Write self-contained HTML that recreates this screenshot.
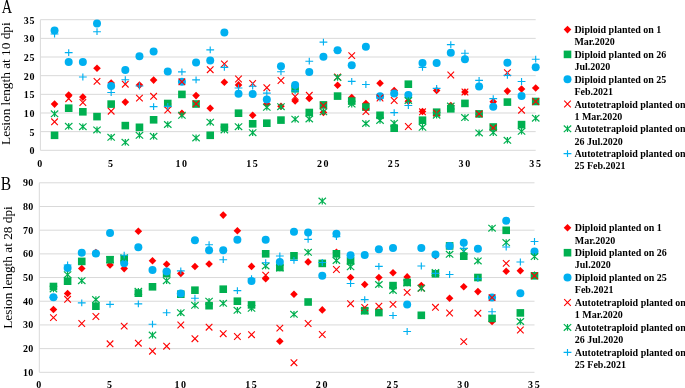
<!DOCTYPE html>
<html><head><meta charset="utf-8"><style>
html,body{margin:0;padding:0;background:#fff;}
body{width:685px;height:388px;overflow:hidden;}
svg{display:block;}
.tk{font-family:"Liberation Serif",serif;font-weight:bold;font-size:10px;fill:#000;}
.lg{font-family:"Liberation Serif",serif;font-weight:bold;font-size:10px;fill:#000;}
.ttl{font-family:"Liberation Serif",serif;font-size:13.3px;fill:#000;}
.let{font-family:"Liberation Serif",serif;font-size:18.4px;fill:#000;}
</style></head><body>
<svg width="685" height="388" viewBox="0 0 685 388">
<rect width="685" height="388" fill="#fff"/>
<text x="35.00" y="154.30" class="tk" text-anchor="end" letter-spacing="0.6">0</text>
<line x1="40.40" y1="131.64" x2="535.70" y2="131.64" stroke="#d9d9d9" stroke-width="1"/>
<text x="35.00" y="135.64" class="tk" text-anchor="end" letter-spacing="0.6">5</text>
<line x1="40.40" y1="112.99" x2="535.70" y2="112.99" stroke="#d9d9d9" stroke-width="1"/>
<text x="35.00" y="116.99" class="tk" text-anchor="end" letter-spacing="0.6">10</text>
<line x1="40.40" y1="94.33" x2="535.70" y2="94.33" stroke="#d9d9d9" stroke-width="1"/>
<text x="35.00" y="98.33" class="tk" text-anchor="end" letter-spacing="0.6">15</text>
<line x1="40.40" y1="75.67" x2="535.70" y2="75.67" stroke="#d9d9d9" stroke-width="1"/>
<text x="35.00" y="79.67" class="tk" text-anchor="end" letter-spacing="0.6">20</text>
<line x1="40.40" y1="57.01" x2="535.70" y2="57.01" stroke="#d9d9d9" stroke-width="1"/>
<text x="35.00" y="61.01" class="tk" text-anchor="end" letter-spacing="0.6">25</text>
<line x1="40.40" y1="38.36" x2="535.70" y2="38.36" stroke="#d9d9d9" stroke-width="1"/>
<text x="35.00" y="42.36" class="tk" text-anchor="end" letter-spacing="0.6">30</text>
<line x1="40.40" y1="19.70" x2="535.70" y2="19.70" stroke="#d9d9d9" stroke-width="1"/>
<text x="35.00" y="23.70" class="tk" text-anchor="end" letter-spacing="0.6">35</text>
<line x1="40.40" y1="150.30" x2="535.70" y2="150.30" stroke="#d9d9d9" stroke-width="1"/>
<line x1="40.40" y1="19.70" x2="40.40" y2="150.30" stroke="#d9d9d9" stroke-width="1"/>
<text x="39.80" y="166.60" class="tk" text-anchor="middle" letter-spacing="0">0</text>
<text x="110.56" y="166.60" class="tk" text-anchor="middle" letter-spacing="0">5</text>
<text x="182.11" y="166.60" class="tk" text-anchor="middle" letter-spacing="1.6">10</text>
<text x="252.87" y="166.60" class="tk" text-anchor="middle" letter-spacing="1.6">15</text>
<text x="323.63" y="166.60" class="tk" text-anchor="middle" letter-spacing="1.6">20</text>
<text x="394.39" y="166.60" class="tk" text-anchor="middle" letter-spacing="1.6">25</text>
<text x="465.14" y="166.60" class="tk" text-anchor="middle" letter-spacing="1.6">30</text>
<text x="535.90" y="166.60" class="tk" text-anchor="middle" letter-spacing="1.6">35</text>
<path d="M54.55 100.30L58.35 104.10L54.55 107.90L50.75 104.10Z" fill="#ff0000"/>
<path d="M68.70 91.30L72.50 95.10L68.70 98.90L64.90 95.10Z" fill="#ff0000"/>
<path d="M82.85 93.30L86.65 97.10L82.85 100.90L79.05 97.10Z" fill="#ff0000"/>
<path d="M97.01 64.50L100.81 68.30L97.01 72.10L93.21 68.30Z" fill="#ff0000"/>
<path d="M111.16 79.20L114.96 83.00L111.16 86.80L107.36 83.00Z" fill="#ff0000"/>
<path d="M125.31 98.30L129.11 102.10L125.31 105.90L121.51 102.10Z" fill="#ff0000"/>
<path d="M139.46 81.30L143.26 85.10L139.46 88.90L135.66 85.10Z" fill="#ff0000"/>
<path d="M153.61 76.30L157.41 80.10L153.61 83.90L149.81 80.10Z" fill="#ff0000"/>
<path d="M167.76 100.20L171.56 104.00L167.76 107.80L163.96 104.00Z" fill="#ff0000"/>
<path d="M181.91 109.50L185.71 113.30L181.91 117.10L178.11 113.30Z" fill="#ff0000"/>
<path d="M196.07 91.80L199.87 95.60L196.07 99.40L192.27 95.60Z" fill="#ff0000"/>
<path d="M210.22 104.40L214.02 108.20L210.22 112.00L206.42 108.20Z" fill="#ff0000"/>
<path d="M224.37 78.40L228.17 82.20L224.37 86.00L220.57 82.20Z" fill="#ff0000"/>
<path d="M238.52 81.10L242.32 84.90L238.52 88.70L234.72 84.90Z" fill="#ff0000"/>
<path d="M252.67 111.40L256.47 115.20L252.67 119.00L248.87 115.20Z" fill="#ff0000"/>
<path d="M266.82 100.20L270.62 104.00L266.82 107.80L263.02 104.00Z" fill="#ff0000"/>
<path d="M280.97 102.40L284.77 106.20L280.97 110.00L277.17 106.20Z" fill="#ff0000"/>
<path d="M295.13 97.10L298.93 100.90L295.13 104.70L291.33 100.90Z" fill="#ff0000"/>
<path d="M309.28 94.60L313.08 98.40L309.28 102.20L305.48 98.40Z" fill="#ff0000"/>
<path d="M323.43 108.70L327.23 112.50L323.43 116.30L319.63 112.50Z" fill="#ff0000"/>
<path d="M337.58 81.50L341.38 85.30L337.58 89.10L333.78 85.30Z" fill="#ff0000"/>
<path d="M351.73 93.70L355.53 97.50L351.73 101.30L347.93 97.50Z" fill="#ff0000"/>
<path d="M365.88 99.70L369.68 103.50L365.88 107.30L362.08 103.50Z" fill="#ff0000"/>
<path d="M380.03 79.40L383.83 83.20L380.03 87.00L376.23 83.20Z" fill="#ff0000"/>
<path d="M394.19 86.80L397.99 90.60L394.19 94.40L390.39 90.60Z" fill="#ff0000"/>
<path d="M408.34 97.40L412.14 101.20L408.34 105.00L404.54 101.20Z" fill="#ff0000"/>
<path d="M422.49 107.70L426.29 111.50L422.49 115.30L418.69 111.50Z" fill="#ff0000"/>
<path d="M436.64 86.70L440.44 90.50L436.64 94.30L432.84 90.50Z" fill="#ff0000"/>
<path d="M450.79 101.70L454.59 105.50L450.79 109.30L446.99 105.50Z" fill="#ff0000"/>
<path d="M464.94 88.20L468.74 92.00L464.94 95.80L461.14 92.00Z" fill="#ff0000"/>
<path d="M479.09 110.40L482.89 114.20L479.09 118.00L475.29 114.20Z" fill="#ff0000"/>
<path d="M493.25 98.00L497.05 101.80L493.25 105.60L489.45 101.80Z" fill="#ff0000"/>
<path d="M507.40 87.30L511.20 91.10L507.40 94.90L503.60 91.10Z" fill="#ff0000"/>
<path d="M521.55 85.20L525.35 89.00L521.55 92.80L517.75 89.00Z" fill="#ff0000"/>
<path d="M535.70 84.20L539.50 88.00L535.70 91.80L531.90 88.00Z" fill="#ff0000"/>
<rect x="50.75" y="131.50" width="7.60" height="7.60" fill="#00b050"/>
<rect x="64.90" y="104.40" width="7.60" height="7.60" fill="#00b050"/>
<rect x="79.05" y="108.00" width="7.60" height="7.60" fill="#00b050"/>
<rect x="93.21" y="112.80" width="7.60" height="7.60" fill="#00b050"/>
<rect x="107.36" y="100.30" width="7.60" height="7.60" fill="#00b050"/>
<rect x="121.51" y="121.80" width="7.60" height="7.60" fill="#00b050"/>
<rect x="135.66" y="123.50" width="7.60" height="7.60" fill="#00b050"/>
<rect x="149.81" y="116.00" width="7.60" height="7.60" fill="#00b050"/>
<rect x="163.96" y="99.70" width="7.60" height="7.60" fill="#00b050"/>
<rect x="178.11" y="90.60" width="7.60" height="7.60" fill="#00b050"/>
<rect x="192.27" y="100.20" width="7.60" height="7.60" fill="#00b050"/>
<rect x="206.42" y="131.50" width="7.60" height="7.60" fill="#00b050"/>
<rect x="220.57" y="123.50" width="7.60" height="7.60" fill="#00b050"/>
<rect x="234.72" y="109.40" width="7.60" height="7.60" fill="#00b050"/>
<rect x="248.87" y="120.00" width="7.60" height="7.60" fill="#00b050"/>
<rect x="263.02" y="119.40" width="7.60" height="7.60" fill="#00b050"/>
<rect x="277.17" y="116.30" width="7.60" height="7.60" fill="#00b050"/>
<rect x="291.33" y="85.00" width="7.60" height="7.60" fill="#00b050"/>
<rect x="305.48" y="108.70" width="7.60" height="7.60" fill="#00b050"/>
<rect x="319.63" y="101.10" width="7.60" height="7.60" fill="#00b050"/>
<rect x="333.78" y="92.30" width="7.60" height="7.60" fill="#00b050"/>
<rect x="347.93" y="97.30" width="7.60" height="7.60" fill="#00b050"/>
<rect x="362.08" y="103.30" width="7.60" height="7.60" fill="#00b050"/>
<rect x="376.23" y="111.50" width="7.60" height="7.60" fill="#00b050"/>
<rect x="390.39" y="124.40" width="7.60" height="7.60" fill="#00b050"/>
<rect x="404.54" y="80.40" width="7.60" height="7.60" fill="#00b050"/>
<rect x="418.69" y="116.40" width="7.60" height="7.60" fill="#00b050"/>
<rect x="432.84" y="108.40" width="7.60" height="7.60" fill="#00b050"/>
<rect x="446.99" y="105.00" width="7.60" height="7.60" fill="#00b050"/>
<rect x="461.14" y="99.60" width="7.60" height="7.60" fill="#00b050"/>
<rect x="475.29" y="110.10" width="7.60" height="7.60" fill="#00b050"/>
<rect x="489.45" y="123.20" width="7.60" height="7.60" fill="#00b050"/>
<rect x="503.60" y="98.30" width="7.60" height="7.60" fill="#00b050"/>
<rect x="517.75" y="120.80" width="7.60" height="7.60" fill="#00b050"/>
<rect x="531.90" y="97.70" width="7.60" height="7.60" fill="#00b050"/>
<circle cx="54.55" cy="30.60" r="4" fill="#00b0f0"/>
<circle cx="68.70" cy="61.90" r="4" fill="#00b0f0"/>
<circle cx="82.85" cy="61.90" r="4" fill="#00b0f0"/>
<circle cx="97.01" cy="23.50" r="4" fill="#00b0f0"/>
<circle cx="111.16" cy="86.00" r="4" fill="#00b0f0"/>
<circle cx="125.31" cy="70.10" r="4" fill="#00b0f0"/>
<circle cx="139.46" cy="56.20" r="4" fill="#00b0f0"/>
<circle cx="153.61" cy="51.40" r="4" fill="#00b0f0"/>
<circle cx="167.76" cy="71.40" r="4" fill="#00b0f0"/>
<circle cx="181.91" cy="81.70" r="4" fill="#00b0f0"/>
<circle cx="196.07" cy="62.60" r="4" fill="#00b0f0"/>
<circle cx="210.22" cy="60.60" r="4" fill="#00b0f0"/>
<circle cx="224.37" cy="32.50" r="4" fill="#00b0f0"/>
<circle cx="238.52" cy="93.70" r="4" fill="#00b0f0"/>
<circle cx="252.67" cy="94.10" r="4" fill="#00b0f0"/>
<circle cx="266.82" cy="99.40" r="4" fill="#00b0f0"/>
<circle cx="280.97" cy="66.30" r="4" fill="#00b0f0"/>
<circle cx="295.13" cy="84.90" r="4" fill="#00b0f0"/>
<circle cx="309.28" cy="72.00" r="4" fill="#00b0f0"/>
<circle cx="323.43" cy="56.80" r="4" fill="#00b0f0"/>
<circle cx="337.58" cy="50.20" r="4" fill="#00b0f0"/>
<circle cx="351.73" cy="65.30" r="4" fill="#00b0f0"/>
<circle cx="365.88" cy="46.80" r="4" fill="#00b0f0"/>
<circle cx="380.03" cy="96.30" r="4" fill="#00b0f0"/>
<circle cx="394.19" cy="93.50" r="4" fill="#00b0f0"/>
<circle cx="408.34" cy="94.90" r="4" fill="#00b0f0"/>
<circle cx="422.49" cy="62.90" r="4" fill="#00b0f0"/>
<circle cx="436.64" cy="62.90" r="4" fill="#00b0f0"/>
<circle cx="450.79" cy="52.80" r="4" fill="#00b0f0"/>
<circle cx="464.94" cy="59.20" r="4" fill="#00b0f0"/>
<circle cx="479.09" cy="86.40" r="4" fill="#00b0f0"/>
<circle cx="493.25" cy="106.70" r="4" fill="#00b0f0"/>
<circle cx="507.40" cy="62.70" r="4" fill="#00b0f0"/>
<circle cx="521.55" cy="96.10" r="4" fill="#00b0f0"/>
<circle cx="535.70" cy="67.30" r="4" fill="#00b0f0"/>
<path d="M51.25 118.50L57.85 125.10M57.85 118.50L51.25 125.10" stroke="#ff0000" stroke-width="1.1" fill="none"/>
<path d="M65.40 95.40L72.00 102.00M72.00 95.40L65.40 102.00" stroke="#ff0000" stroke-width="1.1" fill="none"/>
<path d="M79.55 99.20L86.15 105.80M86.15 99.20L79.55 105.80" stroke="#ff0000" stroke-width="1.1" fill="none"/>
<path d="M93.71 78.10L100.31 84.70M100.31 78.10L93.71 84.70" stroke="#ff0000" stroke-width="1.1" fill="none"/>
<path d="M107.86 107.90L114.46 114.50M114.46 107.90L107.86 114.50" stroke="#ff0000" stroke-width="1.1" fill="none"/>
<path d="M122.01 80.90L128.61 87.50M128.61 80.90L122.01 87.50" stroke="#ff0000" stroke-width="1.1" fill="none"/>
<path d="M136.16 94.80L142.76 101.40M142.76 94.80L136.16 101.40" stroke="#ff0000" stroke-width="1.1" fill="none"/>
<path d="M150.31 93.00L156.91 99.60M156.91 93.00L150.31 99.60" stroke="#ff0000" stroke-width="1.1" fill="none"/>
<path d="M164.46 106.70L171.06 113.30M171.06 106.70L164.46 113.30" stroke="#ff0000" stroke-width="1.1" fill="none"/>
<path d="M178.61 78.50L185.21 85.10M185.21 78.50L178.61 85.10" stroke="#ff0000" stroke-width="1.1" fill="none"/>
<path d="M192.77 100.50L199.37 107.10M199.37 100.50L192.77 107.10" stroke="#ff0000" stroke-width="1.1" fill="none"/>
<path d="M206.92 66.40L213.52 73.00M213.52 66.40L206.92 73.00" stroke="#ff0000" stroke-width="1.1" fill="none"/>
<path d="M221.07 60.60L227.67 67.20M227.67 60.60L221.07 67.20" stroke="#ff0000" stroke-width="1.1" fill="none"/>
<path d="M235.22 75.70L241.82 82.30M241.82 75.70L235.22 82.30" stroke="#ff0000" stroke-width="1.1" fill="none"/>
<path d="M249.37 80.20L255.97 86.80M255.97 80.20L249.37 86.80" stroke="#ff0000" stroke-width="1.1" fill="none"/>
<path d="M263.52 84.40L270.12 91.00M270.12 84.40L263.52 91.00" stroke="#ff0000" stroke-width="1.1" fill="none"/>
<path d="M277.67 77.20L284.27 83.80M284.27 77.20L277.67 83.80" stroke="#ff0000" stroke-width="1.1" fill="none"/>
<path d="M291.83 93.20L298.43 99.80M298.43 93.20L291.83 99.80" stroke="#ff0000" stroke-width="1.1" fill="none"/>
<path d="M305.98 92.00L312.58 98.60M312.58 92.00L305.98 98.60" stroke="#ff0000" stroke-width="1.1" fill="none"/>
<path d="M320.13 102.20L326.73 108.80M326.73 102.20L320.13 108.80" stroke="#ff0000" stroke-width="1.1" fill="none"/>
<path d="M334.28 73.70L340.88 80.30M340.88 73.70L334.28 80.30" stroke="#ff0000" stroke-width="1.1" fill="none"/>
<path d="M348.43 52.30L355.03 58.90M355.03 52.30L348.43 58.90" stroke="#ff0000" stroke-width="1.1" fill="none"/>
<path d="M362.58 108.30L369.18 114.90M369.18 108.30L362.58 114.90" stroke="#ff0000" stroke-width="1.1" fill="none"/>
<path d="M376.73 94.70L383.33 101.30M383.33 94.70L376.73 101.30" stroke="#ff0000" stroke-width="1.1" fill="none"/>
<path d="M390.89 97.20L397.49 103.80M397.49 97.20L390.89 103.80" stroke="#ff0000" stroke-width="1.1" fill="none"/>
<path d="M405.04 123.20L411.64 129.80M411.64 123.20L405.04 129.80" stroke="#ff0000" stroke-width="1.1" fill="none"/>
<path d="M419.19 108.50L425.79 115.10M425.79 108.50L419.19 115.10" stroke="#ff0000" stroke-width="1.1" fill="none"/>
<path d="M433.34 109.90L439.94 116.50M439.94 109.90L433.34 116.50" stroke="#ff0000" stroke-width="1.1" fill="none"/>
<path d="M447.49 71.70L454.09 78.30M454.09 71.70L447.49 78.30" stroke="#ff0000" stroke-width="1.1" fill="none"/>
<path d="M461.64 88.70L468.24 95.30M468.24 88.70L461.64 95.30" stroke="#ff0000" stroke-width="1.1" fill="none"/>
<path d="M475.79 110.60L482.39 117.20M482.39 110.60L475.79 117.20" stroke="#ff0000" stroke-width="1.1" fill="none"/>
<path d="M489.95 124.60L496.55 131.20M496.55 124.60L489.95 131.20" stroke="#ff0000" stroke-width="1.1" fill="none"/>
<path d="M504.10 69.40L510.70 76.00M510.70 69.40L504.10 76.00" stroke="#ff0000" stroke-width="1.1" fill="none"/>
<path d="M518.25 106.90L524.85 113.50M524.85 106.90L518.25 113.50" stroke="#ff0000" stroke-width="1.1" fill="none"/>
<path d="M532.40 98.20L539.00 104.80M539.00 98.20L532.40 104.80" stroke="#ff0000" stroke-width="1.1" fill="none"/>
<path d="M50.85 110.50L58.25 117.10M58.25 110.50L50.85 117.10M54.55 110.50L54.55 117.10" stroke="#00b050" stroke-width="1.2" fill="none"/>
<path d="M65.00 123.00L72.40 129.60M72.40 123.00L65.00 129.60M68.70 123.00L68.70 129.60" stroke="#00b050" stroke-width="1.2" fill="none"/>
<path d="M79.15 123.40L86.55 130.00M86.55 123.40L79.15 130.00M82.85 123.40L82.85 130.00" stroke="#00b050" stroke-width="1.2" fill="none"/>
<path d="M93.31 126.60L100.71 133.20M100.71 126.60L93.31 133.20M97.01 126.60L97.01 133.20" stroke="#00b050" stroke-width="1.2" fill="none"/>
<path d="M107.46 134.00L114.86 140.60M114.86 134.00L107.46 140.60M111.16 134.00L111.16 140.60" stroke="#00b050" stroke-width="1.2" fill="none"/>
<path d="M121.61 139.00L129.01 145.60M129.01 139.00L121.61 145.60M125.31 139.00L125.31 145.60" stroke="#00b050" stroke-width="1.2" fill="none"/>
<path d="M135.76 132.00L143.16 138.60M143.16 132.00L135.76 138.60M139.46 132.00L139.46 138.60" stroke="#00b050" stroke-width="1.2" fill="none"/>
<path d="M149.91 133.00L157.31 139.60M157.31 133.00L149.91 139.60M153.61 133.00L153.61 139.60" stroke="#00b050" stroke-width="1.2" fill="none"/>
<path d="M164.06 121.20L171.46 127.80M171.46 121.20L164.06 127.80M167.76 121.20L167.76 127.80" stroke="#00b050" stroke-width="1.2" fill="none"/>
<path d="M178.21 112.00L185.61 118.60M185.61 112.00L178.21 118.60M181.91 112.00L181.91 118.60" stroke="#00b050" stroke-width="1.2" fill="none"/>
<path d="M192.37 134.60L199.77 141.20M199.77 134.60L192.37 141.20M196.07 134.60L196.07 141.20" stroke="#00b050" stroke-width="1.2" fill="none"/>
<path d="M206.52 118.90L213.92 125.50M213.92 118.90L206.52 125.50M210.22 118.90L210.22 125.50" stroke="#00b050" stroke-width="1.2" fill="none"/>
<path d="M220.67 126.60L228.07 133.20M228.07 126.60L220.67 133.20M224.37 126.60L224.37 133.20" stroke="#00b050" stroke-width="1.2" fill="none"/>
<path d="M234.82 123.40L242.22 130.00M242.22 123.40L234.82 130.00M238.52 123.40L238.52 130.00" stroke="#00b050" stroke-width="1.2" fill="none"/>
<path d="M248.97 129.40L256.37 136.00M256.37 129.40L248.97 136.00M252.67 129.40L252.67 136.00" stroke="#00b050" stroke-width="1.2" fill="none"/>
<path d="M263.12 104.00L270.52 110.60M270.52 104.00L263.12 110.60M266.82 104.00L266.82 110.60" stroke="#00b050" stroke-width="1.2" fill="none"/>
<path d="M277.27 103.40L284.67 110.00M284.67 103.40L277.27 110.00M280.97 103.40L280.97 110.00" stroke="#00b050" stroke-width="1.2" fill="none"/>
<path d="M291.43 115.90L298.83 122.50M298.83 115.90L291.43 122.50M295.13 115.90L295.13 122.50" stroke="#00b050" stroke-width="1.2" fill="none"/>
<path d="M305.58 115.70L312.98 122.30M312.98 115.70L305.58 122.30M309.28 115.70L309.28 122.30" stroke="#00b050" stroke-width="1.2" fill="none"/>
<path d="M319.73 108.50L327.13 115.10M327.13 108.50L319.73 115.10M323.43 108.50L323.43 115.10" stroke="#00b050" stroke-width="1.2" fill="none"/>
<path d="M333.88 74.20L341.28 80.80M341.28 74.20L333.88 80.80M337.58 74.20L337.58 80.80" stroke="#00b050" stroke-width="1.2" fill="none"/>
<path d="M348.03 100.80L355.43 107.40M355.43 100.80L348.03 107.40M351.73 100.80L351.73 107.40" stroke="#00b050" stroke-width="1.2" fill="none"/>
<path d="M362.18 120.20L369.58 126.80M369.58 120.20L362.18 126.80M365.88 120.20L365.88 126.80" stroke="#00b050" stroke-width="1.2" fill="none"/>
<path d="M376.33 117.10L383.73 123.70M383.73 117.10L376.33 123.70M380.03 117.10L380.03 123.70" stroke="#00b050" stroke-width="1.2" fill="none"/>
<path d="M390.49 119.90L397.89 126.50M397.89 119.90L390.49 126.50M394.19 119.90L394.19 126.50" stroke="#00b050" stroke-width="1.2" fill="none"/>
<path d="M404.64 97.20L412.04 103.80M412.04 97.20L404.64 103.80M408.34 97.20L408.34 103.80" stroke="#00b050" stroke-width="1.2" fill="none"/>
<path d="M418.79 124.00L426.19 130.60M426.19 124.00L418.79 130.60M422.49 124.00L422.49 130.60" stroke="#00b050" stroke-width="1.2" fill="none"/>
<path d="M432.94 111.90L440.34 118.50M440.34 111.90L432.94 118.50M436.64 111.90L436.64 118.50" stroke="#00b050" stroke-width="1.2" fill="none"/>
<path d="M447.09 102.80L454.49 109.40M454.49 102.80L447.09 109.40M450.79 102.80L450.79 109.40" stroke="#00b050" stroke-width="1.2" fill="none"/>
<path d="M461.24 114.30L468.64 120.90M468.64 114.30L461.24 120.90M464.94 114.30L464.94 120.90" stroke="#00b050" stroke-width="1.2" fill="none"/>
<path d="M475.39 129.60L482.79 136.20M482.79 129.60L475.39 136.20M479.09 129.60L479.09 136.20" stroke="#00b050" stroke-width="1.2" fill="none"/>
<path d="M489.55 129.30L496.95 135.90M496.95 129.30L489.55 135.90M493.25 129.30L493.25 135.90" stroke="#00b050" stroke-width="1.2" fill="none"/>
<path d="M503.70 137.00L511.10 143.60M511.10 137.00L503.70 143.60M507.40 137.00L507.40 143.60" stroke="#00b050" stroke-width="1.2" fill="none"/>
<path d="M517.85 128.00L525.25 134.60M525.25 128.00L517.85 134.60M521.55 128.00L521.55 134.60" stroke="#00b050" stroke-width="1.2" fill="none"/>
<path d="M532.00 114.90L539.40 121.50M539.40 114.90L532.00 121.50M535.70 114.90L535.70 121.50" stroke="#00b050" stroke-width="1.2" fill="none"/>
<path d="M50.65 34.00L58.45 34.00M54.55 30.60L54.55 37.40" stroke="#00b0f0" stroke-width="1.15" fill="none"/>
<path d="M64.80 52.60L72.60 52.60M68.70 49.20L68.70 56.00" stroke="#00b0f0" stroke-width="1.15" fill="none"/>
<path d="M78.95 77.00L86.75 77.00M82.85 73.60L82.85 80.40" stroke="#00b0f0" stroke-width="1.15" fill="none"/>
<path d="M93.11 31.70L100.91 31.70M97.01 28.30L97.01 35.10" stroke="#00b0f0" stroke-width="1.15" fill="none"/>
<path d="M107.26 92.50L115.06 92.50M111.16 89.10L111.16 95.90" stroke="#00b0f0" stroke-width="1.15" fill="none"/>
<path d="M121.41 79.70L129.21 79.70M125.31 76.30L125.31 83.10" stroke="#00b0f0" stroke-width="1.15" fill="none"/>
<path d="M135.56 86.00L143.36 86.00M139.46 82.60L139.46 89.40" stroke="#00b0f0" stroke-width="1.15" fill="none"/>
<path d="M149.71 106.60L157.51 106.60M153.61 103.20L153.61 110.00" stroke="#00b0f0" stroke-width="1.15" fill="none"/>
<path d="M163.86 106.30L171.66 106.30M167.76 102.90L167.76 109.70" stroke="#00b0f0" stroke-width="1.15" fill="none"/>
<path d="M178.01 71.80L185.81 71.80M181.91 68.40L181.91 75.20" stroke="#00b0f0" stroke-width="1.15" fill="none"/>
<path d="M192.17 79.90L199.97 79.90M196.07 76.50L196.07 83.30" stroke="#00b0f0" stroke-width="1.15" fill="none"/>
<path d="M206.32 49.80L214.12 49.80M210.22 46.40L210.22 53.20" stroke="#00b0f0" stroke-width="1.15" fill="none"/>
<path d="M220.47 67.30L228.27 67.30M224.37 63.90L224.37 70.70" stroke="#00b0f0" stroke-width="1.15" fill="none"/>
<path d="M234.62 88.00L242.42 88.00M238.52 84.60L238.52 91.40" stroke="#00b0f0" stroke-width="1.15" fill="none"/>
<path d="M248.77 86.20L256.57 86.20M252.67 82.80L252.67 89.60" stroke="#00b0f0" stroke-width="1.15" fill="none"/>
<path d="M262.92 93.10L270.72 93.10M266.82 89.70L266.82 96.50" stroke="#00b0f0" stroke-width="1.15" fill="none"/>
<path d="M277.07 71.70L284.87 71.70M280.97 68.30L280.97 75.10" stroke="#00b0f0" stroke-width="1.15" fill="none"/>
<path d="M291.23 90.80L299.03 90.80M295.13 87.40L295.13 94.20" stroke="#00b0f0" stroke-width="1.15" fill="none"/>
<path d="M305.38 61.20L313.18 61.20M309.28 57.80L309.28 64.60" stroke="#00b0f0" stroke-width="1.15" fill="none"/>
<path d="M319.53 42.10L327.33 42.10M323.43 38.70L323.43 45.50" stroke="#00b0f0" stroke-width="1.15" fill="none"/>
<path d="M333.68 50.50L341.48 50.50M337.58 47.10L337.58 53.90" stroke="#00b0f0" stroke-width="1.15" fill="none"/>
<path d="M347.83 81.30L355.63 81.30M351.73 77.90L351.73 84.70" stroke="#00b0f0" stroke-width="1.15" fill="none"/>
<path d="M361.98 84.50L369.78 84.50M365.88 81.10L365.88 87.90" stroke="#00b0f0" stroke-width="1.15" fill="none"/>
<path d="M376.13 98.00L383.93 98.00M380.03 94.60L380.03 101.40" stroke="#00b0f0" stroke-width="1.15" fill="none"/>
<path d="M390.29 112.60L398.09 112.60M394.19 109.20L394.19 116.00" stroke="#00b0f0" stroke-width="1.15" fill="none"/>
<path d="M404.44 105.50L412.24 105.50M408.34 102.10L408.34 108.90" stroke="#00b0f0" stroke-width="1.15" fill="none"/>
<path d="M418.59 67.30L426.39 67.30M422.49 63.90L422.49 70.70" stroke="#00b0f0" stroke-width="1.15" fill="none"/>
<path d="M432.74 88.40L440.54 88.40M436.64 85.00L436.64 91.80" stroke="#00b0f0" stroke-width="1.15" fill="none"/>
<path d="M446.89 44.60L454.69 44.60M450.79 41.20L450.79 48.00" stroke="#00b0f0" stroke-width="1.15" fill="none"/>
<path d="M461.04 53.20L468.84 53.20M464.94 49.80L464.94 56.60" stroke="#00b0f0" stroke-width="1.15" fill="none"/>
<path d="M475.19 80.30L482.99 80.30M479.09 76.90L479.09 83.70" stroke="#00b0f0" stroke-width="1.15" fill="none"/>
<path d="M489.35 98.60L497.15 98.60M493.25 95.20L493.25 102.00" stroke="#00b0f0" stroke-width="1.15" fill="none"/>
<path d="M503.50 75.30L511.30 75.30M507.40 71.90L507.40 78.70" stroke="#00b0f0" stroke-width="1.15" fill="none"/>
<path d="M517.65 81.50L525.45 81.50M521.55 78.10L521.55 84.90" stroke="#00b0f0" stroke-width="1.15" fill="none"/>
<path d="M531.80 59.20L539.60 59.20M535.70 55.80L535.70 62.60" stroke="#00b0f0" stroke-width="1.15" fill="none"/>
<text transform="translate(9.90,83.60) rotate(-90)" class="ttl" text-anchor="middle">Lesion length at 10 dpi</text>
<text transform="translate(6.95,13.10) scale(0.78,1)" class="let" text-anchor="middle">A</text>
<path d="M567.50 25.80L571.30 29.60L567.50 33.40L563.70 29.60Z" fill="#ff0000"/>
<text x="574.40" y="33.10" class="lg">Diploid planted on 1</text>
<text x="574.40" y="45.30" class="lg">Mar.2020</text>
<rect x="563.70" y="50.60" width="7.60" height="7.60" fill="#00b050"/>
<text x="574.40" y="57.90" class="lg">Diploid planted on 26</text>
<text x="574.40" y="70.10" class="lg">Jul.2020</text>
<circle cx="567.50" cy="79.20" r="4" fill="#00b0f0"/>
<text x="574.40" y="82.70" class="lg">Diploid planted on 25</text>
<text x="574.40" y="94.90" class="lg">Feb.2021</text>
<path d="M564.20 100.70L570.80 107.30M570.80 100.70L564.20 107.30" stroke="#ff0000" stroke-width="1.1" fill="none"/>
<text x="574.40" y="107.50" class="lg">Autotetraploid planted on</text>
<text x="574.40" y="119.70" class="lg">1 Mar.2020</text>
<path d="M563.80 125.50L571.20 132.10M571.20 125.50L563.80 132.10M567.50 125.50L567.50 132.10" stroke="#00b050" stroke-width="1.2" fill="none"/>
<text x="574.40" y="132.30" class="lg">Autotetraploid planted on</text>
<text x="574.40" y="144.50" class="lg">26 Jul.2020</text>
<path d="M563.60 153.60L571.40 153.60M567.50 150.20L567.50 157.00" stroke="#00b0f0" stroke-width="1.15" fill="none"/>
<text x="574.40" y="157.10" class="lg">Autotetraploid planted on</text>
<text x="574.40" y="169.30" class="lg">25 Feb.2021</text>
<text x="33.50" y="375.70" class="tk" text-anchor="end" letter-spacing="0.3">10</text>
<line x1="39.30" y1="348.61" x2="534.50" y2="348.61" stroke="#d9d9d9" stroke-width="1"/>
<text x="33.50" y="352.01" class="tk" text-anchor="end" letter-spacing="0.3">20</text>
<line x1="39.30" y1="324.93" x2="534.50" y2="324.93" stroke="#d9d9d9" stroke-width="1"/>
<text x="33.50" y="328.32" class="tk" text-anchor="end" letter-spacing="0.3">30</text>
<line x1="39.30" y1="301.24" x2="534.50" y2="301.24" stroke="#d9d9d9" stroke-width="1"/>
<text x="33.50" y="304.64" class="tk" text-anchor="end" letter-spacing="0.3">40</text>
<line x1="39.30" y1="277.55" x2="534.50" y2="277.55" stroke="#d9d9d9" stroke-width="1"/>
<text x="33.50" y="280.95" class="tk" text-anchor="end" letter-spacing="0.3">50</text>
<line x1="39.30" y1="253.86" x2="534.50" y2="253.86" stroke="#d9d9d9" stroke-width="1"/>
<text x="33.50" y="257.26" class="tk" text-anchor="end" letter-spacing="0.3">60</text>
<line x1="39.30" y1="230.18" x2="534.50" y2="230.18" stroke="#d9d9d9" stroke-width="1"/>
<text x="33.50" y="233.58" class="tk" text-anchor="end" letter-spacing="0.3">70</text>
<line x1="39.30" y1="206.49" x2="534.50" y2="206.49" stroke="#d9d9d9" stroke-width="1"/>
<text x="33.50" y="209.89" class="tk" text-anchor="end" letter-spacing="0.3">80</text>
<line x1="39.30" y1="182.80" x2="534.50" y2="182.80" stroke="#d9d9d9" stroke-width="1"/>
<text x="33.50" y="186.20" class="tk" text-anchor="end" letter-spacing="0.3">90</text>
<line x1="39.30" y1="372.30" x2="534.50" y2="372.30" stroke="#d9d9d9" stroke-width="1"/>
<line x1="39.30" y1="182.80" x2="39.30" y2="372.30" stroke="#d9d9d9" stroke-width="1"/>
<text x="38.70" y="388.00" class="tk" text-anchor="middle" letter-spacing="0">0</text>
<text x="109.44" y="388.00" class="tk" text-anchor="middle" letter-spacing="0">5</text>
<text x="180.99" y="388.00" class="tk" text-anchor="middle" letter-spacing="1.6">10</text>
<text x="251.73" y="388.00" class="tk" text-anchor="middle" letter-spacing="1.6">15</text>
<text x="322.47" y="388.00" class="tk" text-anchor="middle" letter-spacing="1.6">20</text>
<text x="393.21" y="388.00" class="tk" text-anchor="middle" letter-spacing="1.6">25</text>
<text x="463.96" y="388.00" class="tk" text-anchor="middle" letter-spacing="1.6">30</text>
<text x="534.70" y="388.00" class="tk" text-anchor="middle" letter-spacing="1.6">35</text>
<path d="M53.45 305.70L57.25 309.50L53.45 313.30L49.65 309.50Z" fill="#ff0000"/>
<path d="M67.60 289.70L71.40 293.50L67.60 297.30L63.80 293.50Z" fill="#ff0000"/>
<path d="M81.75 264.70L85.55 268.50L81.75 272.30L77.95 268.50Z" fill="#ff0000"/>
<path d="M95.89 248.80L99.69 252.60L95.89 256.40L92.09 252.60Z" fill="#ff0000"/>
<path d="M110.04 261.10L113.84 264.90L110.04 268.70L106.24 264.90Z" fill="#ff0000"/>
<path d="M124.19 264.80L127.99 268.60L124.19 272.40L120.39 268.60Z" fill="#ff0000"/>
<path d="M138.34 227.40L142.14 231.20L138.34 235.00L134.54 231.20Z" fill="#ff0000"/>
<path d="M152.49 256.90L156.29 260.70L152.49 264.50L148.69 260.70Z" fill="#ff0000"/>
<path d="M166.64 260.40L170.44 264.20L166.64 268.00L162.84 264.20Z" fill="#ff0000"/>
<path d="M180.79 269.70L184.59 273.50L180.79 277.30L176.99 273.50Z" fill="#ff0000"/>
<path d="M194.93 262.70L198.73 266.50L194.93 270.30L191.13 266.50Z" fill="#ff0000"/>
<path d="M209.08 260.20L212.88 264.00L209.08 267.80L205.28 264.00Z" fill="#ff0000"/>
<path d="M223.23 211.30L227.03 215.10L223.23 218.90L219.43 215.10Z" fill="#ff0000"/>
<path d="M237.38 227.00L241.18 230.80L237.38 234.60L233.58 230.80Z" fill="#ff0000"/>
<path d="M251.53 262.60L255.33 266.40L251.53 270.20L247.73 266.40Z" fill="#ff0000"/>
<path d="M265.68 274.90L269.48 278.70L265.68 282.50L261.88 278.70Z" fill="#ff0000"/>
<path d="M279.83 337.40L283.63 341.20L279.83 345.00L276.03 341.20Z" fill="#ff0000"/>
<path d="M293.97 290.40L297.77 294.20L293.97 298.00L290.17 294.20Z" fill="#ff0000"/>
<path d="M308.12 258.10L311.92 261.90L308.12 265.70L304.32 261.90Z" fill="#ff0000"/>
<path d="M322.27 306.10L326.07 309.90L322.27 313.70L318.47 309.90Z" fill="#ff0000"/>
<path d="M336.42 248.40L340.22 252.20L336.42 256.00L332.62 252.20Z" fill="#ff0000"/>
<path d="M350.57 273.70L354.37 277.50L350.57 281.30L346.77 277.50Z" fill="#ff0000"/>
<path d="M364.72 280.70L368.52 284.50L364.72 288.30L360.92 284.50Z" fill="#ff0000"/>
<path d="M378.87 273.70L382.67 277.50L378.87 281.30L375.07 277.50Z" fill="#ff0000"/>
<path d="M393.01 268.90L396.81 272.70L393.01 276.50L389.21 272.70Z" fill="#ff0000"/>
<path d="M407.16 273.10L410.96 276.90L407.16 280.70L403.36 276.90Z" fill="#ff0000"/>
<path d="M421.31 281.80L425.11 285.60L421.31 289.40L417.51 285.60Z" fill="#ff0000"/>
<path d="M435.46 252.00L439.26 255.80L435.46 259.60L431.66 255.80Z" fill="#ff0000"/>
<path d="M449.61 294.40L453.41 298.20L449.61 302.00L445.81 298.20Z" fill="#ff0000"/>
<path d="M463.76 283.00L467.56 286.80L463.76 290.60L459.96 286.80Z" fill="#ff0000"/>
<path d="M477.91 287.80L481.71 291.60L477.91 295.40L474.11 291.60Z" fill="#ff0000"/>
<path d="M492.05 317.70L495.85 321.50L492.05 325.30L488.25 321.50Z" fill="#ff0000"/>
<path d="M506.20 267.50L510.00 271.30L506.20 275.10L502.40 271.30Z" fill="#ff0000"/>
<path d="M520.35 266.90L524.15 270.70L520.35 274.50L516.55 270.70Z" fill="#ff0000"/>
<path d="M534.50 271.20L538.30 275.00L534.50 278.80L530.70 275.00Z" fill="#ff0000"/>
<rect x="49.65" y="282.70" width="7.60" height="7.60" fill="#00b050"/>
<rect x="63.80" y="277.40" width="7.60" height="7.60" fill="#00b050"/>
<rect x="77.95" y="257.60" width="7.60" height="7.60" fill="#00b050"/>
<rect x="92.09" y="302.40" width="7.60" height="7.60" fill="#00b050"/>
<rect x="106.24" y="255.90" width="7.60" height="7.60" fill="#00b050"/>
<rect x="120.39" y="255.30" width="7.60" height="7.60" fill="#00b050"/>
<rect x="134.54" y="289.40" width="7.60" height="7.60" fill="#00b050"/>
<rect x="148.69" y="283.00" width="7.60" height="7.60" fill="#00b050"/>
<rect x="162.84" y="269.70" width="7.60" height="7.60" fill="#00b050"/>
<rect x="176.99" y="290.40" width="7.60" height="7.60" fill="#00b050"/>
<rect x="191.13" y="286.40" width="7.60" height="7.60" fill="#00b050"/>
<rect x="205.28" y="301.90" width="7.60" height="7.60" fill="#00b050"/>
<rect x="219.43" y="285.40" width="7.60" height="7.60" fill="#00b050"/>
<rect x="233.58" y="297.40" width="7.60" height="7.60" fill="#00b050"/>
<rect x="247.73" y="301.10" width="7.60" height="7.60" fill="#00b050"/>
<rect x="261.88" y="250.00" width="7.60" height="7.60" fill="#00b050"/>
<rect x="276.03" y="263.70" width="7.60" height="7.60" fill="#00b050"/>
<rect x="290.17" y="252.00" width="7.60" height="7.60" fill="#00b050"/>
<rect x="304.32" y="298.20" width="7.60" height="7.60" fill="#00b050"/>
<rect x="318.47" y="259.60" width="7.60" height="7.60" fill="#00b050"/>
<rect x="332.62" y="250.00" width="7.60" height="7.60" fill="#00b050"/>
<rect x="346.77" y="257.10" width="7.60" height="7.60" fill="#00b050"/>
<rect x="360.92" y="306.90" width="7.60" height="7.60" fill="#00b050"/>
<rect x="375.07" y="308.80" width="7.60" height="7.60" fill="#00b050"/>
<rect x="389.21" y="281.80" width="7.60" height="7.60" fill="#00b050"/>
<rect x="403.36" y="278.60" width="7.60" height="7.60" fill="#00b050"/>
<rect x="417.51" y="311.50" width="7.60" height="7.60" fill="#00b050"/>
<rect x="431.66" y="270.00" width="7.60" height="7.60" fill="#00b050"/>
<rect x="445.81" y="242.10" width="7.60" height="7.60" fill="#00b050"/>
<rect x="459.96" y="252.40" width="7.60" height="7.60" fill="#00b050"/>
<rect x="474.11" y="273.70" width="7.60" height="7.60" fill="#00b050"/>
<rect x="488.25" y="314.60" width="7.60" height="7.60" fill="#00b050"/>
<rect x="502.40" y="226.50" width="7.60" height="7.60" fill="#00b050"/>
<rect x="516.55" y="309.10" width="7.60" height="7.60" fill="#00b050"/>
<rect x="530.70" y="272.00" width="7.60" height="7.60" fill="#00b050"/>
<circle cx="53.45" cy="297.30" r="4" fill="#00b0f0"/>
<circle cx="67.60" cy="268.10" r="4" fill="#00b0f0"/>
<circle cx="81.75" cy="252.70" r="4" fill="#00b0f0"/>
<circle cx="95.89" cy="253.60" r="4" fill="#00b0f0"/>
<circle cx="110.04" cy="233.00" r="4" fill="#00b0f0"/>
<circle cx="124.19" cy="263.20" r="4" fill="#00b0f0"/>
<circle cx="138.34" cy="247.20" r="4" fill="#00b0f0"/>
<circle cx="152.49" cy="270.10" r="4" fill="#00b0f0"/>
<circle cx="166.64" cy="271.50" r="4" fill="#00b0f0"/>
<circle cx="180.79" cy="293.60" r="4" fill="#00b0f0"/>
<circle cx="194.93" cy="240.30" r="4" fill="#00b0f0"/>
<circle cx="209.08" cy="250.30" r="4" fill="#00b0f0"/>
<circle cx="223.23" cy="250.30" r="4" fill="#00b0f0"/>
<circle cx="237.38" cy="239.70" r="4" fill="#00b0f0"/>
<circle cx="251.53" cy="281.10" r="4" fill="#00b0f0"/>
<circle cx="265.68" cy="239.70" r="4" fill="#00b0f0"/>
<circle cx="279.83" cy="261.90" r="4" fill="#00b0f0"/>
<circle cx="293.97" cy="231.80" r="4" fill="#00b0f0"/>
<circle cx="308.12" cy="232.60" r="4" fill="#00b0f0"/>
<circle cx="322.27" cy="275.70" r="4" fill="#00b0f0"/>
<circle cx="336.42" cy="233.80" r="4" fill="#00b0f0"/>
<circle cx="350.57" cy="255.30" r="4" fill="#00b0f0"/>
<circle cx="364.72" cy="255.00" r="4" fill="#00b0f0"/>
<circle cx="378.87" cy="249.30" r="4" fill="#00b0f0"/>
<circle cx="393.01" cy="248.10" r="4" fill="#00b0f0"/>
<circle cx="407.16" cy="304.50" r="4" fill="#00b0f0"/>
<circle cx="421.31" cy="247.90" r="4" fill="#00b0f0"/>
<circle cx="435.46" cy="254.60" r="4" fill="#00b0f0"/>
<circle cx="449.61" cy="245.90" r="4" fill="#00b0f0"/>
<circle cx="463.76" cy="242.70" r="4" fill="#00b0f0"/>
<circle cx="477.91" cy="248.70" r="4" fill="#00b0f0"/>
<circle cx="492.05" cy="297.60" r="4" fill="#00b0f0"/>
<circle cx="506.20" cy="220.80" r="4" fill="#00b0f0"/>
<circle cx="520.35" cy="293.20" r="4" fill="#00b0f0"/>
<circle cx="534.50" cy="251.40" r="4" fill="#00b0f0"/>
<path d="M50.15 314.30L56.75 320.90M56.75 314.30L50.15 320.90" stroke="#ff0000" stroke-width="1.1" fill="none"/>
<path d="M64.30 296.00L70.90 302.60M70.90 296.00L64.30 302.60" stroke="#ff0000" stroke-width="1.1" fill="none"/>
<path d="M78.45 320.20L85.05 326.80M85.05 320.20L78.45 326.80" stroke="#ff0000" stroke-width="1.1" fill="none"/>
<path d="M92.59 313.20L99.19 319.80M99.19 313.20L92.59 319.80" stroke="#ff0000" stroke-width="1.1" fill="none"/>
<path d="M106.74 340.50L113.34 347.10M113.34 340.50L106.74 347.10" stroke="#ff0000" stroke-width="1.1" fill="none"/>
<path d="M120.89 322.80L127.49 329.40M127.49 322.80L120.89 329.40" stroke="#ff0000" stroke-width="1.1" fill="none"/>
<path d="M135.04 339.90L141.64 346.50M141.64 339.90L135.04 346.50" stroke="#ff0000" stroke-width="1.1" fill="none"/>
<path d="M149.19 347.90L155.79 354.50M155.79 347.90L149.19 354.50" stroke="#ff0000" stroke-width="1.1" fill="none"/>
<path d="M163.34 342.90L169.94 349.50M169.94 342.90L163.34 349.50" stroke="#ff0000" stroke-width="1.1" fill="none"/>
<path d="M177.49 321.70L184.09 328.30M184.09 321.70L177.49 328.30" stroke="#ff0000" stroke-width="1.1" fill="none"/>
<path d="M191.63 335.40L198.23 342.00M198.23 335.40L191.63 342.00" stroke="#ff0000" stroke-width="1.1" fill="none"/>
<path d="M205.78 323.90L212.38 330.50M212.38 323.90L205.78 330.50" stroke="#ff0000" stroke-width="1.1" fill="none"/>
<path d="M219.93 330.40L226.53 337.00M226.53 330.40L219.93 337.00" stroke="#ff0000" stroke-width="1.1" fill="none"/>
<path d="M234.08 333.20L240.68 339.80M240.68 333.20L234.08 339.80" stroke="#ff0000" stroke-width="1.1" fill="none"/>
<path d="M248.23 331.40L254.83 338.00M254.83 331.40L248.23 338.00" stroke="#ff0000" stroke-width="1.1" fill="none"/>
<path d="M262.38 271.80L268.98 278.40M268.98 271.80L262.38 278.40" stroke="#ff0000" stroke-width="1.1" fill="none"/>
<path d="M276.53 324.80L283.13 331.40M283.13 324.80L276.53 331.40" stroke="#ff0000" stroke-width="1.1" fill="none"/>
<path d="M290.67 359.40L297.27 366.00M297.27 359.40L290.67 366.00" stroke="#ff0000" stroke-width="1.1" fill="none"/>
<path d="M304.82 320.20L311.42 326.80M311.42 320.20L304.82 326.80" stroke="#ff0000" stroke-width="1.1" fill="none"/>
<path d="M318.97 331.20L325.57 337.80M325.57 331.20L318.97 337.80" stroke="#ff0000" stroke-width="1.1" fill="none"/>
<path d="M333.12 266.20L339.72 272.80M339.72 266.20L333.12 272.80" stroke="#ff0000" stroke-width="1.1" fill="none"/>
<path d="M347.27 300.40L353.87 307.00M353.87 300.40L347.27 307.00" stroke="#ff0000" stroke-width="1.1" fill="none"/>
<path d="M361.42 304.20L368.02 310.80M368.02 304.20L361.42 310.80" stroke="#ff0000" stroke-width="1.1" fill="none"/>
<path d="M375.57 302.90L382.17 309.50M382.17 302.90L375.57 309.50" stroke="#ff0000" stroke-width="1.1" fill="none"/>
<path d="M389.71 301.10L396.31 307.70M396.31 301.10L389.71 307.70" stroke="#ff0000" stroke-width="1.1" fill="none"/>
<path d="M403.86 289.10L410.46 295.70M410.46 289.10L403.86 295.70" stroke="#ff0000" stroke-width="1.1" fill="none"/>
<path d="M418.01 284.90L424.61 291.50M424.61 284.90L418.01 291.50" stroke="#ff0000" stroke-width="1.1" fill="none"/>
<path d="M432.16 304.00L438.76 310.60M438.76 304.00L432.16 310.60" stroke="#ff0000" stroke-width="1.1" fill="none"/>
<path d="M446.31 309.70L452.91 316.30M452.91 309.70L446.31 316.30" stroke="#ff0000" stroke-width="1.1" fill="none"/>
<path d="M460.46 338.30L467.06 344.90M467.06 338.30L460.46 344.90" stroke="#ff0000" stroke-width="1.1" fill="none"/>
<path d="M474.61 309.90L481.21 316.50M481.21 309.90L474.61 316.50" stroke="#ff0000" stroke-width="1.1" fill="none"/>
<path d="M488.75 294.30L495.35 300.90M495.35 294.30L488.75 300.90" stroke="#ff0000" stroke-width="1.1" fill="none"/>
<path d="M502.90 260.10L509.50 266.70M509.50 260.10L502.90 266.70" stroke="#ff0000" stroke-width="1.1" fill="none"/>
<path d="M517.05 326.70L523.65 333.30M523.65 326.70L517.05 333.30" stroke="#ff0000" stroke-width="1.1" fill="none"/>
<path d="M531.20 272.50L537.80 279.10M537.80 272.50L531.20 279.10" stroke="#ff0000" stroke-width="1.1" fill="none"/>
<path d="M49.75 285.70L57.15 292.30M57.15 285.70L49.75 292.30M53.45 285.70L53.45 292.30" stroke="#00b050" stroke-width="1.2" fill="none"/>
<path d="M63.90 271.40L71.30 278.00M71.30 271.40L63.90 278.00M67.60 271.40L67.60 278.00" stroke="#00b050" stroke-width="1.2" fill="none"/>
<path d="M78.05 277.40L85.45 284.00M85.45 277.40L78.05 284.00M81.75 277.40L81.75 284.00" stroke="#00b050" stroke-width="1.2" fill="none"/>
<path d="M92.19 296.30L99.59 302.90M99.59 296.30L92.19 302.90M95.89 296.30L95.89 302.90" stroke="#00b050" stroke-width="1.2" fill="none"/>
<path d="M106.34 256.40L113.74 263.00M113.74 256.40L106.34 263.00M110.04 256.40L110.04 263.00" stroke="#00b050" stroke-width="1.2" fill="none"/>
<path d="M120.49 254.50L127.89 261.10M127.89 254.50L120.49 261.10M124.19 254.50L124.19 261.10" stroke="#00b050" stroke-width="1.2" fill="none"/>
<path d="M134.64 288.00L142.04 294.60M142.04 288.00L134.64 294.60M138.34 288.00L138.34 294.60" stroke="#00b050" stroke-width="1.2" fill="none"/>
<path d="M148.79 331.80L156.19 338.40M156.19 331.80L148.79 338.40M152.49 331.80L152.49 338.40" stroke="#00b050" stroke-width="1.2" fill="none"/>
<path d="M162.94 277.40L170.34 284.00M170.34 277.40L162.94 284.00M166.64 277.40L166.64 284.00" stroke="#00b050" stroke-width="1.2" fill="none"/>
<path d="M177.09 309.40L184.49 316.00M184.49 309.40L177.09 316.00M180.79 309.40L180.79 316.00" stroke="#00b050" stroke-width="1.2" fill="none"/>
<path d="M191.23 302.00L198.63 308.60M198.63 302.00L191.23 308.60M194.93 302.00L194.93 308.60" stroke="#00b050" stroke-width="1.2" fill="none"/>
<path d="M205.38 297.90L212.78 304.50M212.78 297.90L205.38 304.50M209.08 297.90L209.08 304.50" stroke="#00b050" stroke-width="1.2" fill="none"/>
<path d="M219.53 300.00L226.93 306.60M226.93 300.00L219.53 306.60M223.23 300.00L223.23 306.60" stroke="#00b050" stroke-width="1.2" fill="none"/>
<path d="M233.68 307.00L241.08 313.60M241.08 307.00L233.68 313.60M237.38 307.00L237.38 313.60" stroke="#00b050" stroke-width="1.2" fill="none"/>
<path d="M247.83 305.00L255.23 311.60M255.23 305.00L247.83 311.60M251.53 305.00L251.53 311.60" stroke="#00b050" stroke-width="1.2" fill="none"/>
<path d="M261.98 262.70L269.38 269.30M269.38 262.70L261.98 269.30M265.68 262.70L265.68 269.30" stroke="#00b050" stroke-width="1.2" fill="none"/>
<path d="M276.13 264.70L283.53 271.30M283.53 264.70L276.13 271.30M279.83 264.70L279.83 271.30" stroke="#00b050" stroke-width="1.2" fill="none"/>
<path d="M290.27 311.00L297.67 317.60M297.67 311.00L290.27 317.60M293.97 311.00L293.97 317.60" stroke="#00b050" stroke-width="1.2" fill="none"/>
<path d="M304.42 249.00L311.82 255.60M311.82 249.00L304.42 255.60M308.12 249.00L308.12 255.60" stroke="#00b050" stroke-width="1.2" fill="none"/>
<path d="M318.57 197.80L325.97 204.40M325.97 197.80L318.57 204.40M322.27 197.80L322.27 204.40" stroke="#00b050" stroke-width="1.2" fill="none"/>
<path d="M332.72 257.20L340.12 263.80M340.12 257.20L332.72 263.80M336.42 257.20L336.42 263.80" stroke="#00b050" stroke-width="1.2" fill="none"/>
<path d="M346.87 263.50L354.27 270.10M354.27 263.50L346.87 270.10M350.57 263.50L350.57 270.10" stroke="#00b050" stroke-width="1.2" fill="none"/>
<path d="M361.02 307.70L368.42 314.30M368.42 307.70L361.02 314.30M364.72 307.70L364.72 314.30" stroke="#00b050" stroke-width="1.2" fill="none"/>
<path d="M375.17 281.20L382.57 287.80M382.57 281.20L375.17 287.80M378.87 281.20L378.87 287.80" stroke="#00b050" stroke-width="1.2" fill="none"/>
<path d="M389.31 287.10L396.71 293.70M396.71 287.10L389.31 293.70M393.01 287.10L393.01 293.70" stroke="#00b050" stroke-width="1.2" fill="none"/>
<path d="M403.46 279.70L410.86 286.30M410.86 279.70L403.46 286.30M407.16 279.70L407.16 286.30" stroke="#00b050" stroke-width="1.2" fill="none"/>
<path d="M417.61 284.90L425.01 291.50M425.01 284.90L417.61 291.50M421.31 284.90L421.31 291.50" stroke="#00b050" stroke-width="1.2" fill="none"/>
<path d="M431.76 269.20L439.16 275.80M439.16 269.20L431.76 275.80M435.46 269.20L435.46 275.80" stroke="#00b050" stroke-width="1.2" fill="none"/>
<path d="M445.91 251.00L453.31 257.60M453.31 251.00L445.91 257.60M449.61 251.00L449.61 257.60" stroke="#00b050" stroke-width="1.2" fill="none"/>
<path d="M460.06 248.00L467.46 254.60M467.46 248.00L460.06 254.60M463.76 248.00L463.76 254.60" stroke="#00b050" stroke-width="1.2" fill="none"/>
<path d="M474.21 257.60L481.61 264.20M481.61 257.60L474.21 264.20M477.91 257.60L477.91 264.20" stroke="#00b050" stroke-width="1.2" fill="none"/>
<path d="M488.35 224.90L495.75 231.50M495.75 224.90L488.35 231.50M492.05 224.90L492.05 231.50" stroke="#00b050" stroke-width="1.2" fill="none"/>
<path d="M502.50 239.30L509.90 245.90M509.90 239.30L502.50 245.90M506.20 239.30L506.20 245.90" stroke="#00b050" stroke-width="1.2" fill="none"/>
<path d="M516.65 318.20L524.05 324.80M524.05 318.20L516.65 324.80M520.35 318.20L520.35 324.80" stroke="#00b050" stroke-width="1.2" fill="none"/>
<path d="M530.80 253.30L538.20 259.90M538.20 253.30L530.80 259.90M534.50 253.30L534.50 259.90" stroke="#00b050" stroke-width="1.2" fill="none"/>
<path d="M49.55 297.30L57.35 297.30M53.45 293.90L53.45 300.70" stroke="#00b0f0" stroke-width="1.15" fill="none"/>
<path d="M63.70 265.00L71.50 265.00M67.60 261.60L67.60 268.40" stroke="#00b0f0" stroke-width="1.15" fill="none"/>
<path d="M77.85 302.80L85.65 302.80M81.75 299.40L81.75 306.20" stroke="#00b0f0" stroke-width="1.15" fill="none"/>
<path d="M91.99 253.60L99.79 253.60M95.89 250.20L95.89 257.00" stroke="#00b0f0" stroke-width="1.15" fill="none"/>
<path d="M106.14 304.30L113.94 304.30M110.04 300.90L110.04 307.70" stroke="#00b0f0" stroke-width="1.15" fill="none"/>
<path d="M120.29 255.20L128.09 255.20M124.19 251.80L124.19 258.60" stroke="#00b0f0" stroke-width="1.15" fill="none"/>
<path d="M134.44 303.90L142.24 303.90M138.34 300.50L138.34 307.30" stroke="#00b0f0" stroke-width="1.15" fill="none"/>
<path d="M148.59 324.20L156.39 324.20M152.49 320.80L152.49 327.60" stroke="#00b0f0" stroke-width="1.15" fill="none"/>
<path d="M162.74 312.70L170.54 312.70M166.64 309.30L166.64 316.10" stroke="#00b0f0" stroke-width="1.15" fill="none"/>
<path d="M176.89 270.90L184.69 270.90M180.79 267.50L180.79 274.30" stroke="#00b0f0" stroke-width="1.15" fill="none"/>
<path d="M191.03 298.20L198.83 298.20M194.93 294.80L194.93 301.60" stroke="#00b0f0" stroke-width="1.15" fill="none"/>
<path d="M205.18 244.70L212.98 244.70M209.08 241.30L209.08 248.10" stroke="#00b0f0" stroke-width="1.15" fill="none"/>
<path d="M219.33 259.70L227.13 259.70M223.23 256.30L223.23 263.10" stroke="#00b0f0" stroke-width="1.15" fill="none"/>
<path d="M233.48 290.60L241.28 290.60M237.38 287.20L237.38 294.00" stroke="#00b0f0" stroke-width="1.15" fill="none"/>
<path d="M247.63 278.70L255.43 278.70M251.53 275.30L251.53 282.10" stroke="#00b0f0" stroke-width="1.15" fill="none"/>
<path d="M261.78 262.70L269.58 262.70M265.68 259.30L265.68 266.10" stroke="#00b0f0" stroke-width="1.15" fill="none"/>
<path d="M275.93 256.00L283.73 256.00M279.83 252.60L279.83 259.40" stroke="#00b0f0" stroke-width="1.15" fill="none"/>
<path d="M290.07 260.30L297.87 260.30M293.97 256.90L293.97 263.70" stroke="#00b0f0" stroke-width="1.15" fill="none"/>
<path d="M304.22 239.30L312.02 239.30M308.12 235.90L308.12 242.70" stroke="#00b0f0" stroke-width="1.15" fill="none"/>
<path d="M318.37 262.50L326.17 262.50M322.27 259.10L322.27 265.90" stroke="#00b0f0" stroke-width="1.15" fill="none"/>
<path d="M332.52 236.60L340.32 236.60M336.42 233.20L336.42 240.00" stroke="#00b0f0" stroke-width="1.15" fill="none"/>
<path d="M346.67 283.50L354.47 283.50M350.57 280.10L350.57 286.90" stroke="#00b0f0" stroke-width="1.15" fill="none"/>
<path d="M360.82 299.60L368.62 299.60M364.72 296.20L364.72 303.00" stroke="#00b0f0" stroke-width="1.15" fill="none"/>
<path d="M374.97 266.40L382.77 266.40M378.87 263.00L378.87 269.80" stroke="#00b0f0" stroke-width="1.15" fill="none"/>
<path d="M389.11 315.50L396.91 315.50M393.01 312.10L393.01 318.90" stroke="#00b0f0" stroke-width="1.15" fill="none"/>
<path d="M403.26 331.50L411.06 331.50M407.16 328.10L407.16 334.90" stroke="#00b0f0" stroke-width="1.15" fill="none"/>
<path d="M417.41 266.00L425.21 266.00M421.31 262.60L421.31 269.40" stroke="#00b0f0" stroke-width="1.15" fill="none"/>
<path d="M431.56 273.30L439.36 273.30M435.46 269.90L435.46 276.70" stroke="#00b0f0" stroke-width="1.15" fill="none"/>
<path d="M445.71 274.50L453.51 274.50M449.61 271.10L449.61 277.90" stroke="#00b0f0" stroke-width="1.15" fill="none"/>
<path d="M459.86 248.30L467.66 248.30M463.76 244.90L463.76 251.70" stroke="#00b0f0" stroke-width="1.15" fill="none"/>
<path d="M474.01 278.70L481.81 278.70M477.91 275.30L477.91 282.10" stroke="#00b0f0" stroke-width="1.15" fill="none"/>
<path d="M488.15 311.70L495.95 311.70M492.05 308.30L492.05 315.10" stroke="#00b0f0" stroke-width="1.15" fill="none"/>
<path d="M502.30 247.00L510.10 247.00M506.20 243.60L506.20 250.40" stroke="#00b0f0" stroke-width="1.15" fill="none"/>
<path d="M516.45 262.00L524.25 262.00M520.35 258.60L520.35 265.40" stroke="#00b0f0" stroke-width="1.15" fill="none"/>
<path d="M530.60 241.50L538.40 241.50M534.50 238.10L534.50 244.90" stroke="#00b0f0" stroke-width="1.15" fill="none"/>
<text transform="translate(12.10,267.50) rotate(-90)" class="ttl" text-anchor="middle">Lesion length at 28 dpi</text>
<text transform="translate(5.90,189.90) scale(0.845,1)" class="let" text-anchor="middle">B</text>
<path d="M567.50 224.00L571.30 227.80L567.50 231.60L563.70 227.80Z" fill="#ff0000"/>
<text x="574.80" y="231.30" class="lg">Diploid planted on 1</text>
<text x="574.80" y="243.50" class="lg">Mar.2020</text>
<rect x="563.70" y="248.90" width="7.60" height="7.60" fill="#00b050"/>
<text x="574.80" y="256.20" class="lg">Diploid planted on 26</text>
<text x="574.80" y="268.40" class="lg">Jul.2020</text>
<circle cx="567.50" cy="277.60" r="4" fill="#00b0f0"/>
<text x="574.80" y="281.10" class="lg">Diploid planted on 25</text>
<text x="574.80" y="293.30" class="lg">Feb.2021</text>
<path d="M564.20 299.20L570.80 305.80M570.80 299.20L564.20 305.80" stroke="#ff0000" stroke-width="1.1" fill="none"/>
<text x="574.80" y="306.00" class="lg">Autotetraploid planted on</text>
<text x="574.80" y="318.20" class="lg">1 Mar.2020</text>
<path d="M563.80 324.10L571.20 330.70M571.20 324.10L563.80 330.70M567.50 324.10L567.50 330.70" stroke="#00b050" stroke-width="1.2" fill="none"/>
<text x="574.80" y="330.90" class="lg">Autotetraploid planted on</text>
<text x="574.80" y="343.10" class="lg">26 Jul.2020</text>
<path d="M563.60 352.30L571.40 352.30M567.50 348.90L567.50 355.70" stroke="#00b0f0" stroke-width="1.15" fill="none"/>
<text x="574.80" y="355.80" class="lg">Autotetraploid planted on</text>
<text x="574.80" y="368.00" class="lg">25 Feb.2021</text>
</svg>
</body></html>
